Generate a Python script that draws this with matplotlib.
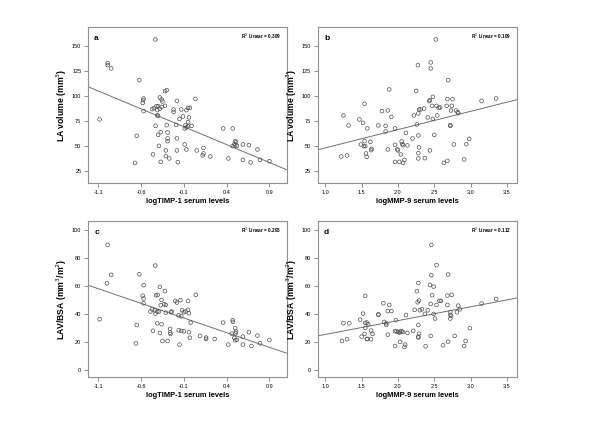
import matplotlib
matplotlib.use('Agg')
import matplotlib.pyplot as plt
import numpy as np

plt.rcParams['font.family'] = ['Liberation Sans', 'DejaVu Sans']

# panel a: logTIMP-1 vs LA volume
A_X = [-0.433, -0.99, -0.99, -0.948, -0.62, -1.084, -0.30, -0.32, -0.57, -0.575, -0.58,
       -0.38, -0.36, -0.35, -0.18, 0.035, -0.57, -0.47, -0.45, -0.42, -0.41, -0.40,
       -0.38, -0.36, -0.32, -0.22, -0.22, -0.13, -0.07, -0.05, -0.03, -0.41, -0.40,
       -0.11, -0.15, -0.04, -0.43, -0.30, -0.19, -0.08, -0.07, -0.05, -0.01, -0.09, -0.05,
       -0.37, -0.40, -0.29, -0.65, -0.29, -0.29, -0.18, -0.39, -0.09, -0.31, -0.18, -0.07,
       0.05, 0.13, 0.13, 0.21, 0.12, -0.46, -0.31, -0.27, -0.37, -0.17, -0.67, 0.36, 0.47,
       0.50, 0.51, 0.49, 0.47, 0.50, 0.52, 0.59, 0.66, 0.76, 0.42, 0.59, 0.68, 0.79, 0.90]
A_Y = [156.7, 133, 131, 127.7, 116, 76.7, 106, 105, 97.7, 96, 93.3,
       98.7, 96.7, 94.7, 95.3, 97.3, 85, 87, 88, 90, 86, 90,
       87.3, 89.3, 90.3, 86.7, 84.3, 86.7, 86, 88.3, 88.3, 80.7, 80.5,
       79.7, 77.3, 78.7, 70.3, 71, 71.3, 71, 68.7, 70, 70.3, 67.7, 74,
       64, 61.3, 63.7, 60.3, 57.7, 55, 57.7, 50.3, 51.7, 45.7, 45.7, 46.7,
       45.7, 48.3, 42.7, 39.7, 40.7, 41.7, 40, 37.7, 34.3, 34, 33.3, 67.7, 67.7,
       55, 54, 52, 50, 51, 50.3, 51.7, 51, 46.7, 37.7, 36.3, 33.7, 36.3, 35]

# panel b: logMMP-9 vs LA volume
B_X = [2.52, 2.275, 2.45, 2.45, 2.69, 1.88, 2.25, 2.48, 2.44, 2.43,
       2.68, 2.75, 2.67, 2.74, 3.15, 3.35,
       1.54, 1.78, 1.86, 2.29, 2.31, 2.36, 2.47, 2.53, 2.56, 2.58, 2.73, 2.80, 2.82, 2.83,
       1.25, 1.47, 1.52, 1.32, 1.58, 1.73, 1.83, 1.91, 2.22, 2.28, 2.41, 2.48, 2.54, 1.96, 2.26, 2.72, 2.72,
       1.83, 2.11, 2.20, 2.28, 2.50, 1.54, 1.62, 1.49, 1.53, 1.55, 1.63, 1.64, 1.56, 1.57,
       1.86, 1.96, 1.99, 2.00, 2.05, 2.06, 2.07, 2.04, 2.13, 2.29, 2.28, 2.28, 2.44, 2.37,
       2.77, 2.94, 2.98, 1.96, 2.02, 2.09, 2.07, 2.63, 2.68, 2.91, 1.22, 1.30]
B_Y = [156.7, 131, 133.7, 127.7, 116, 106.7, 105.3, 99.3, 96, 95,
       97, 97, 90.3, 90.3, 95.3, 97.7,
       92.3, 85, 85.7, 86.7, 86.7, 87.7, 90.3, 90.3, 88.3, 88.7, 85.7, 85.7, 84, 83,
       80.7, 76.7, 73.3, 70.7, 67.7, 70.7, 70.3, 79.3, 80.7, 82.7, 78.7, 77.3, 80.7, 67.7, 71.7, 71, 70.3,
       64.7, 63.3, 57.7, 60.7, 61.3, 55, 54.3, 51.7, 50, 50, 46, 47.3, 42.7, 39.3,
       46.7, 51.3, 46.7, 45.7, 54.7, 52, 51, 41.7, 50.7, 48.7, 43, 37.7, 45.7, 38,
       51.7, 52, 57.3, 34.3, 34.3, 36.3, 33.3, 33.3, 35.3, 36.7, 39.7, 40.7]

# panel c: logTIMP-1 vs LAV/BSA
C_X = [-0.99, -0.948, -0.998, -1.084, -0.433, -0.62, -0.57, -0.38, -0.405, -0.425,
       -0.58, -0.57, -0.57, -0.32, -0.36, -0.37, -0.31, -0.33,
       -0.47, -0.44, -0.49, -0.41, -0.39, -0.43, -0.31, -0.25, -0.24,
       -0.20, -0.18, -0.14, -0.05, 0.04,
       -0.12, -0.10, -0.08, -0.05, -0.04, -0.16, -0.13,
       -0.65, -0.46, -0.41, -0.36, -0.38, -0.29, -0.35, -0.26, -0.26, -0.255, -0.16, -0.13,
       -0.10, -0.04, -0.03, 0.09, 0.16, 0.16, 0.26, -0.15, -0.66, -0.02,
       0.36, 0.47, 0.475, 0.50, 0.51, 0.505, 0.46, 0.49, 0.52, 0.50, 0.59, 0.66, 0.76, 0.79,
       0.90, 0.42, 0.59, 0.69]
C_Y = [89.3, 67.9, 61.9, 36.2, 74.5, 68.3, 60.5, 59.3, 53.6, 53.3,
       53, 51, 47.6, 56.2, 50, 46.2, 46.4, 46.9,
       43.3, 42.6, 41.7, 41.7, 41.7, 40.2, 40.9, 41.2, 41.7,
       49.3, 48.1, 49.8, 49.3, 53.6,
       42.6, 41.2, 41.7, 42.9, 40.5, 39, 38.3,
       32.1, 28, 33.3, 32.6, 26.4, 20.7, 20.7, 29.3, 26.7, 25.7, 28.3, 27.9,
       27.6, 27, 23, 24.3, 23.1, 22.1, 22.1, 18.1, 18.9, 33.8,
       33.8, 35.5, 34.3, 29.8, 27.4, 26.2, 25.9, 22.9, 21.4, 21.2, 23.8, 26.9, 24.5, 19,
       21.4, 18.1, 18.1, 17.1]

# panel d: logMMP-9 vs LAV/BSA
D_X = [2.46, 2.53, 2.46, 2.69, 2.28, 2.44, 2.49,
       2.26, 2.29, 2.27, 2.47, 2.68, 2.74, 2.57, 2.59, 2.53, 2.68,
       1.55, 1.80, 1.88, 1.86, 1.91, 1.52, 1.73, 2.11, 2.23, 2.30, 2.33, 2.37, 2.41, 2.45, 2.49, 2.51,
       2.72, 2.72, 2.73, 2.72, 2.81, 2.83, 2.85, 3.15, 3.35,
       1.25, 1.33, 1.48, 1.55, 1.57, 1.59, 1.81, 1.84, 1.84, 1.97, 1.73, 1.55, 2.28, 1.63,
       1.54, 1.65, 1.50, 1.57, 1.58, 1.63, 1.86, 1.96, 1.98, 2.00, 2.02, 2.03, 2.05, 2.07, 2.13,
       2.21, 2.29, 2.28, 2.28, 2.45, 2.99, 2.78, 1.23, 1.30, 2.03, 1.96, 2.10, 2.09, 2.38,
       2.62, 2.69, 2.91, 2.93]
D_Y = [89.3, 74.8, 67.6, 68.1, 62.1, 60.7, 59.5,
       56.2, 49.5, 48.3, 53.3, 53.1, 53.6, 49.3, 49.3, 46.4, 46.4,
       52.9, 47.6, 46.4, 42, 42, 40.2, 39.7, 39.2, 42.9, 42.6, 43.3, 40, 42.6, 47.1, 40, 36.7,
       41.4, 39.3, 38.6, 36.7, 41.2, 45.9, 43.3, 47.4, 50.7,
       33.3, 33.3, 35.9, 33.6, 33.8, 32.6, 34.3, 33.3, 32.1, 35.5, 39.3, 30.0, 32.1, 28.1,
       25.7, 25.7, 23.8, 22.1, 22.1, 21.9, 25.2, 27.6, 27.6, 27.1, 26.7, 27.4, 27.6, 27.1, 26.4,
       27.9, 25.9, 23.8, 23.1, 24.3, 29.8, 24.3, 20.7, 21.9, 20, 17.1, 18.1, 16.4, 16.9,
       17.6, 20.2, 17.1, 20.7]

R2 = ['0.309', '0.109', '0.293', '0.112']
LETTERS = ['a', 'b', 'c', 'd']
XLABELS = ['logTIMP-1 serum levels', 'logMMP-9 serum levels',
           'logTIMP-1 serum levels', 'logMMP-9 serum levels']
YLABELS = ['LA volume (mm$^3$)', 'LA volume (mm$^3$)',
           'LAV/BSA (mm$^3$/m$^2$)', 'LAV/BSA (mm$^3$/m$^2$)']
TIMP_TICKS = [-1.1, -0.6, -0.1, 0.4, 0.9]
MMP_TICKS = [1.0, 1.5, 2.0, 2.5, 3.0, 3.5]

fig = plt.figure(figsize=(6, 4.24), dpi=100)

boxes = [[0.147, 0.568, 0.332, 0.368],
         [0.530, 0.568, 0.332, 0.368],
         [0.147, 0.111, 0.332, 0.368],
         [0.530, 0.111, 0.332, 0.368]]
data = [(A_X, A_Y), (B_X, B_Y), (C_X, C_Y), (D_X, D_Y)]
xlims = [(-1.217, 1.11), (0.90, 3.64), (-1.217, 1.11), (0.90, 3.64)]
ylims = [(13, 169), (13, 169), (-5, 106.4), (-5, 106.4)]
yticks = [[25, 50, 75, 100, 125, 150], [25, 50, 75, 100, 125, 150],
          [0, 20, 40, 60, 80, 100], [0, 20, 40, 60, 80, 100]]

for i in range(4):
    ax = fig.add_axes(boxes[i])
    x = np.array(data[i][0])
    y = np.array(data[i][1])
    ax.scatter(x, y, s=7, facecolors='none', edgecolors='#505050', linewidths=0.5, zorder=3)
    # fit line across the whole axis
    k, b = np.polyfit(x, y, 1)
    xs = np.array(xlims[i])
    ax.plot(xs, k * xs + b, color='#707070', linewidth=0.7, zorder=2)
    ax.set_xlim(xlims[i])
    ax.set_ylim(ylims[i])
    ticks = TIMP_TICKS if i % 2 == 0 else MMP_TICKS
    ax.set_xticks(ticks)
    ax.set_xticklabels(['%.1f' % t for t in ticks])
    ax.set_yticks(yticks[i])
    ax.tick_params(direction='out', length=3, width=0.5, color='#606060',
                   labelsize=4, pad=2)
    for s in ax.spines.values():
        s.set_color('#909090')
        s.set_linewidth(0.8)
    ax.set_xlabel(XLABELS[i], fontsize=5.4, fontweight='bold', labelpad=2)
    ax.set_ylabel(YLABELS[i], fontsize=6.2, fontweight='bold', labelpad=2)
    ax.text(0.03, 0.95, LETTERS[i], transform=ax.transAxes, fontsize=6,
            fontweight='bold', va='top', ha='left')
    ax.text(0.97, 0.97, 'R$^2$ Linear = ' + R2[i], transform=ax.transAxes,
            fontsize=3.4, fontweight='bold', va='top', ha='right')

fig.savefig('out.png', dpi=100)
